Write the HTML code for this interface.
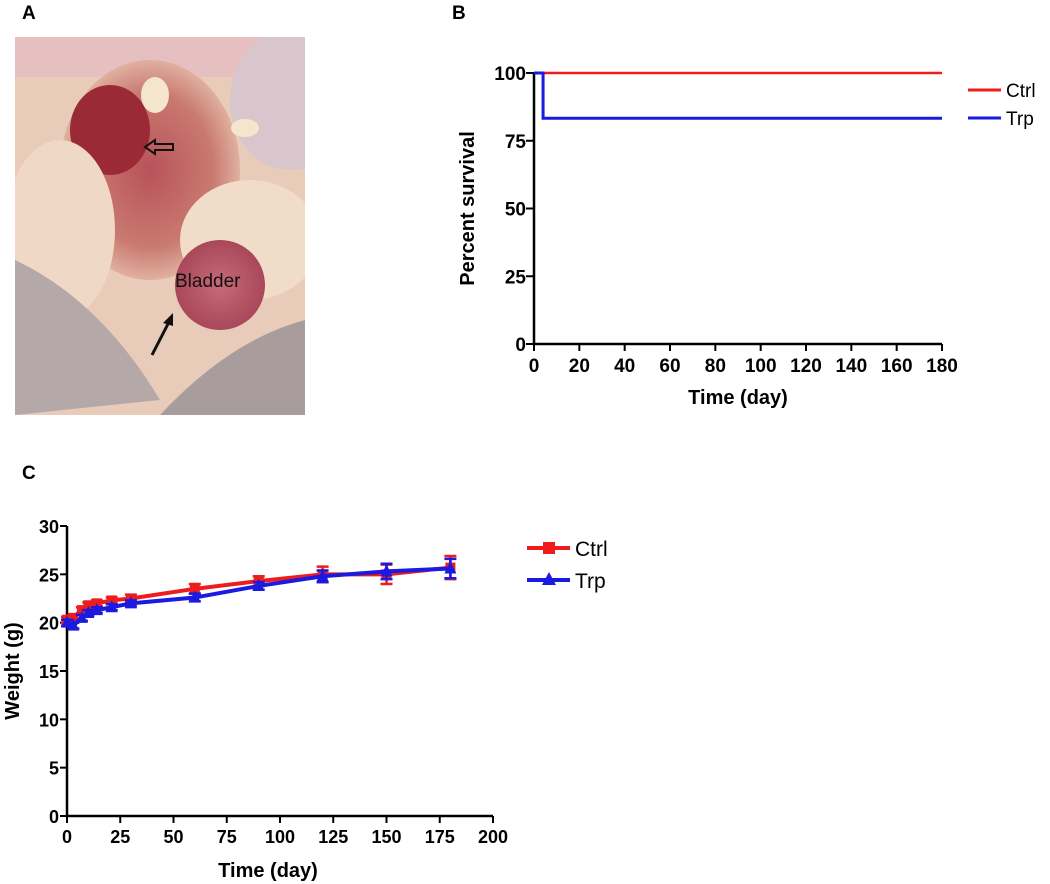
<!DOCTYPE html>
<html><head><meta charset="utf-8"><style>
body{margin:0;background:#fff;}
svg{display:block;font-family:"Liberation Sans",Arial,sans-serif;}
</style></head><body>
<svg width="1050" height="884" viewBox="0 0 1050 884">
<defs>
<radialGradient id="cav" cx="0.5" cy="0.5" r="0.5"><stop offset="0" stop-color="#b8525a"/><stop offset="0.7" stop-color="#c97a70"/><stop offset="1" stop-color="#e0b0a0"/></radialGradient>
<radialGradient id="bl" cx="0.5" cy="0.5" r="0.5"><stop offset="0" stop-color="#c86a7a"/><stop offset="1" stop-color="#a8485a"/></radialGradient>
<clipPath id="pc"><rect x="15" y="37" width="290" height="378"/></clipPath>
</defs>
<text x="22" y="19" font-size="19" font-weight="bold">A</text>
<text x="452" y="19" font-size="19" font-weight="bold">B</text>
<text x="22" y="479" font-size="19" font-weight="bold">C</text>

<g clip-path="url(#pc)">
<rect x="15" y="37" width="290" height="378" fill="#e8cbb8"/>
<rect x="15" y="37" width="290" height="40" fill="#e6c0c0"/>
<ellipse cx="290" cy="100" rx="60" ry="70" fill="#d8c6cc"/>
<ellipse cx="150" cy="170" rx="90" ry="110" fill="url(#cav)"/>
<ellipse cx="110" cy="130" rx="40" ry="45" fill="#9a2a35"/>
<ellipse cx="155" cy="95" rx="14" ry="18" fill="#f3e6cc"/>
<ellipse cx="245" cy="128" rx="14" ry="9" fill="#f3e6cc"/>
<ellipse cx="60" cy="230" rx="55" ry="90" fill="#efd8c6"/>
<ellipse cx="250" cy="240" rx="70" ry="60" fill="#f0dcc8"/>
<ellipse cx="220" cy="285" rx="45" ry="45" fill="url(#bl)"/>
<path d="M15 260 Q100 300 160 400 L15 415 Z" fill="#b5a8a8"/>
<path d="M160 415 Q230 340 305 320 L305 415 Z" fill="#a99c9c"/>
<text x="175" y="287" font-size="19" fill="#111">Bladder</text>
<line x1="152" y1="355" x2="170" y2="320" stroke="#111" stroke-width="3"/>
<polygon points="173,313 163,323 173,326" fill="#111"/>
<polygon points="145,147 155,140 155,144 173,144 173,150 155,150 155,154" fill="none" stroke="#111" stroke-width="2"/>
</g>

<g id="chartB"></g>
<g id="chartC"></g>
</svg>
<script>
const NS="http://www.w3.org/2000/svg";
function mk(p,t,a){const e=document.createElementNS(NS,t);for(const k in a)e.setAttribute(k,a[k]);p.appendChild(e);return e;}
// ---- Chart B data ----
const bXTicks=[0,20,40,60,80,100,120,140,160,180];
const bYTicks=[0,25,50,75,100];
const ctrlSurvT=[0,180];
const ctrlSurvV=[100,100];
const trpSurvT=[0,4,180];
const trpSurvV=[100,83.3,83.3];
// ---- Chart C data ----
const cXTicks=[0,25,50,75,100,125,150,175,200];
const cYTicks=[0,5,10,15,20,25,30];
const days=[0,3,7,10,14,21,30,60,90,120,150,180];
const ctrlW=[20.3,20.5,21.3,21.8,22.0,22.3,22.5,23.5,24.3,25.0,25.0,25.7];
const ctrlErr=[0.3,0.3,0.3,0.3,0.3,0.3,0.4,0.5,0.5,0.8,1.0,1.2];
const trpW=[20.0,19.7,20.5,21.0,21.3,21.6,22.0,22.6,23.8,24.8,25.3,25.6];
const trpErr=[0.3,0.3,0.3,0.3,0.3,0.3,0.3,0.4,0.4,0.6,0.8,1.0];

// Chart B
(function(){
const g=document.getElementById('chartB');
const X=v=>534+(v/180)*408, Y=v=>344-(v/100)*271;
let ax=mk(g,'path',{d:`M${X(0)} ${Y(100)} V${Y(0)} H${X(180)}`,fill:'none',stroke:'#000','stroke-width':2.5});

bYTicks.forEach(t=>{mk(g,'line',{x1:X(0)-8,x2:X(0),y1:Y(t),y2:Y(t),stroke:'#000','stroke-width':2});
 const tx=mk(g,'text',{x:X(0)-8,y:Y(t)+7,'text-anchor':'end','font-size':19,'font-weight':'bold'});tx.textContent=t;
 });
bXTicks.forEach(t=>{mk(g,'line',{x1:X(t),x2:X(t),y1:Y(0),y2:Y(0)+7,stroke:'#000','stroke-width':2});
 const tx=mk(g,'text',{x:X(t),y:Y(0)+28,'text-anchor':'middle','font-size':19,'font-weight':'bold'});tx.textContent=t;
 });
let xt=mk(g,'text',{x:(X(0)+X(180))/2,y:404,'text-anchor':'middle','font-size':20,'font-weight':'bold'});xt.textContent='Time (day)';

let yt=mk(g,'text',{x:0,y:0,transform:`translate(474,${Y(50)}) rotate(-90)`,'text-anchor':'middle','font-size':20,'font-weight':'bold'});yt.textContent='Percent survival';

function step(T,V){let d=`M${X(T[0])} ${Y(V[0])}`;for(let i=1;i<T.length;i++){d+=` H${X(T[i])} V${Y(V[i])}`;}return d;}
let c=mk(g,'path',{d:step(ctrlSurvT,ctrlSurvV),fill:'none',stroke:'#ee1c1c','stroke-width':2.5});

let t=mk(g,'path',{d:step(trpSurvT,trpSurvV),fill:'none',stroke:'#1a1ae0','stroke-width':3});

[['Ctrl','#ee1c1c',90],['Trp','#1a1ae0',118]].forEach(([n,col,y])=>{
 let l=mk(g,'line',{x1:968,x2:1001,y1:y,y2:y,stroke:col,'stroke-width':3});
 
 let tx=mk(g,'text',{x:1006,y:y+7,'font-size':19});tx.textContent=n;
 });
})();

// Chart C
(function(){
const g=document.getElementById('chartC');
const X=v=>67+(v/200)*426, Y=v=>816-(v/30)*290;
let ax=mk(g,'path',{d:`M${X(0)} ${Y(30)} V${Y(0)} H${X(200)}`,fill:'none',stroke:'#000','stroke-width':2.5});

cYTicks.forEach(t=>{mk(g,'line',{x1:X(0)-7,x2:X(0),y1:Y(t),y2:Y(t),stroke:'#000','stroke-width':2});
 const tx=mk(g,'text',{x:X(0)-8,y:Y(t)+7,'text-anchor':'end','font-size':18,'font-weight':'bold'});tx.textContent=t;
 });
cXTicks.forEach(t=>{mk(g,'line',{x1:X(t),x2:X(t),y1:Y(0),y2:Y(0)+7,stroke:'#000','stroke-width':2});
 const tx=mk(g,'text',{x:X(t),y:Y(0)+27,'text-anchor':'middle','font-size':18,'font-weight':'bold'});tx.textContent=t;
 });
let xt=mk(g,'text',{x:(X(0)+X(200))/2-12,y:877,'text-anchor':'middle','font-size':20,'font-weight':'bold'});xt.textContent='Time (day)';

let yt=mk(g,'text',{x:0,y:0,transform:`translate(19,${Y(15)}) rotate(-90)`,'text-anchor':'middle','font-size':20,'font-weight':'bold'});yt.textContent='Weight (g)';

function series(W,E,col,shape,name){
 const sg=mk(g,'g',{});
 
 days.forEach((d,i)=>{const x=X(d);mk(sg,'path',{d:`M${x} ${Y(W[i]-E[i])} V${Y(W[i]+E[i])} M${x-6} ${Y(W[i]-E[i])} h12 M${x-6} ${Y(W[i]+E[i])} h12`,stroke:col,'stroke-width':2.5,fill:'none'});});
 let p=mk(sg,'polyline',{points:days.map((d,i)=>X(d)+','+Y(W[i])).join(' '),fill:'none',stroke:col,'stroke-width':4});
 
 days.forEach((d,i)=>{const x=X(d),y=Y(W[i]);let m;
  if(shape==='sq')m=mk(sg,'rect',{x:x-5,y:y-5,width:10,height:10,fill:col});
  else m=mk(sg,'polygon',{points:`${x},${y-7} ${x-6},${y+5} ${x+6},${y+5}`,fill:col});
  });
}
series(ctrlW,ctrlErr,'#ee1c1c','sq','ctrl-weight');
series(trpW,trpErr,'#1a1ae0','tri','trp-weight');
[['Ctrl','#ee1c1c',548,'sq'],['Trp','#1a1ae0',580,'tri']].forEach(([n,col,y,s])=>{
 let l=mk(g,'line',{x1:527,x2:570,y1:y,y2:y,stroke:col,'stroke-width':4});
 
 if(s==='sq')mk(g,'rect',{x:543,y:y-6,width:12,height:12,fill:col});else mk(g,'polygon',{points:`549,${y-8} 542,${y+5} 556,${y+5}`,fill:col});
 let tx=mk(g,'text',{x:575,y:y+8,'font-size':21});tx.textContent=n;
 });
})();
</script>
</body></html>
